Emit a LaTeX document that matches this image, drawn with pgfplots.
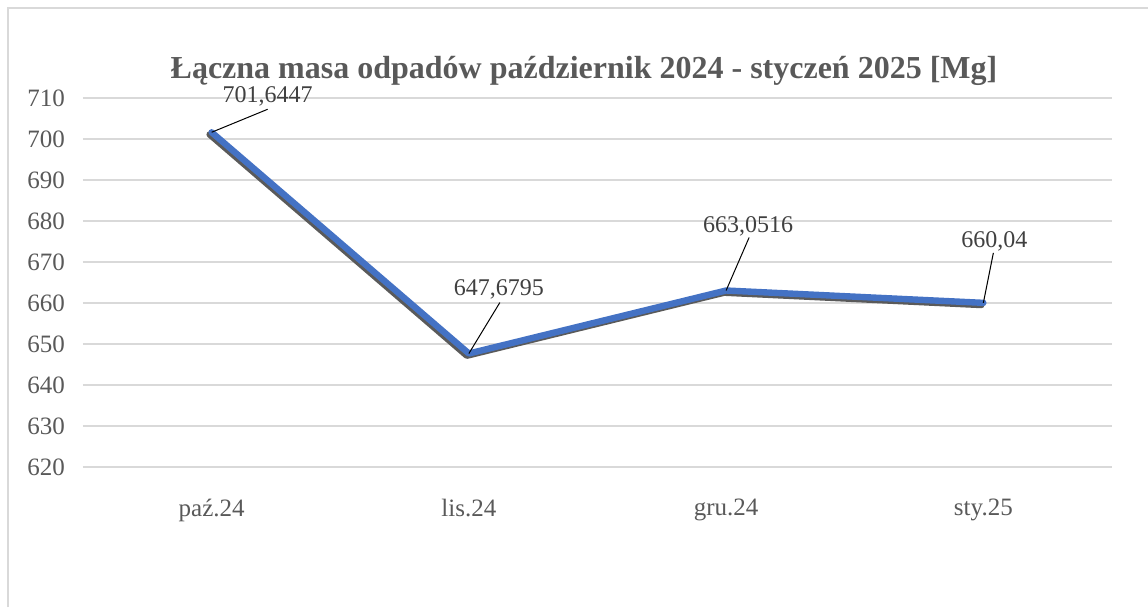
\documentclass[border=0pt]{standalone}
\usepackage{pgfplots}
\pgfplotsset{compat=1.18}
\usepackage{fontspec}
\setmainfont{Liberation Serif}
\definecolor{txtc}{HTML}{595959}
\definecolor{lblc}{HTML}{404040}
\definecolor{gridc}{HTML}{D9D9D9}
\definecolor{bluec}{HTML}{4472C4}
\definecolor{shadowc}{HTML}{5A5A5A}
\begin{document}
\begin{tikzpicture}
\useasboundingbox (0,0) rectangle (574pt,303.5pt);
\draw[gridc, line width=1pt] (4pt,0pt) -- (4pt,299.5pt) -- (574pt,299.5pt);
\node[font=\fontsize{16}{18}\selectfont\bfseries, text=txtc] at (292pt,268pt) {Łączna masa odpadów październik 2024 - styczeń 2025 [Mg]};
\begin{axis}[
  at={(41.5pt,70pt)}, anchor=south west,
  scale only axis, width=514.5pt, height=184.5pt,
  xmin=-0.5, xmax=3.5, ymin=620, ymax=710,
  ytick={620,630,...,710},
  xtick={0,1,2,3},
  xticklabels={paź.24,lis.24,gru.24,sty.25},
  ymajorgrids=true, xmajorgrids=false,
  grid style={draw=gridc, line width=0.8pt},
  axis line style={draw=none},
  major tick length=0pt,
  tick label style={font=\fontsize{12.5}{14}\selectfont, text=txtc},
  /pgf/number format/assume math mode=true,
  yticklabel style={xshift=-5.5pt},
  xticklabel style={yshift=-12.5pt},
  clip=false,
]
\addplot[shadowc, line width=3.2pt, line join=round, line cap=round, xshift=-1pt, yshift=-1.1pt] coordinates {(0,701.6447) (1,647.6795) (2,663.0516) (3,660.04)};
\addplot[bluec, line width=3.2pt, line join=round, line cap=round] coordinates {(0,701.6447) (1,647.6795) (2,663.0516) (3,660.04)};
\draw[black, line width=0.5pt] (axis cs:0,701.6447) -- ++(28pt,11.5pt);
\node[text=lblc, font=\fontsize{12}{14}\selectfont] at ([shift={(28pt,18pt)}]axis cs:0,701.6447) {701,6447};
\draw[black, line width=0.5pt] (axis cs:1,647.6795) -- ++(15.5pt,25.5pt);
\node[text=lblc, font=\fontsize{12}{14}\selectfont] at ([shift={(15pt,32pt)}]axis cs:1,647.6795) {647,6795};
\draw[black, line width=0.5pt] (axis cs:2,663.0516) -- ++(11.5pt,26.5pt);
\node[text=lblc, font=\fontsize{12}{14}\selectfont] at ([shift={(11pt,32pt)}]axis cs:2,663.0516) {663,0516};
\draw[black, line width=0.5pt] (axis cs:3,660.04) -- ++(5pt,25pt);
\node[text=lblc, font=\fontsize{12}{14}\selectfont] at ([shift={(5.5pt,30.5pt)}]axis cs:3,660.04) {660,04};
\end{axis}
\end{tikzpicture}
\end{document}
